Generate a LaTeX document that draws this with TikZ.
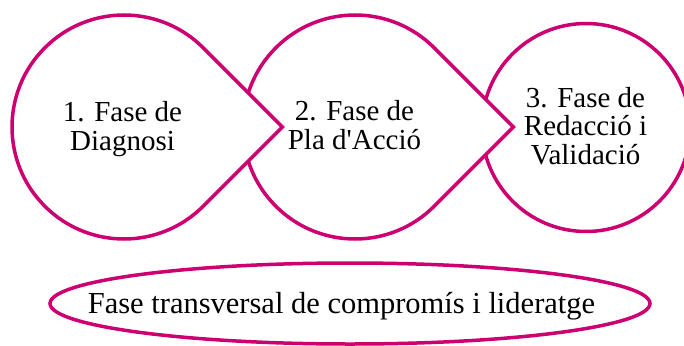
\documentclass[tikz,border=0pt]{standalone}
\usepackage{fontspec}
\setmainfont{Liberation Serif}
\usetikzlibrary{shapes.geometric}
\definecolor{mag}{RGB}{204,0,112}
\begin{document}
\begin{tikzpicture}[x=1pt,y=-1pt,
  phase/.style={draw=mag,line width=3.5pt,fill=white},
  lbl/.style={align=center,font=\fontsize{29}{28.5}\selectfont,inner sep=0pt,anchor=base}]
\useasboundingbox (0,0) rectangle (684,345);
% shape 3 (circle)
\draw[phase] (586,127.5) circle[radius=104];
% shape 2 (teardrop)
\draw[phase] (355,127) ++(45:112) arc[start angle=45,end angle=315,radius=112] -- (513.4,127) -- cycle;
% shape 1 (teardrop)
\draw[phase] (124,127) ++(45:112) arc[start angle=45,end angle=315,radius=112] -- (282.4,127) -- cycle;
\node[lbl] (p1) at (122.5,150) {1. Fase de\\Diagnosi};
\node[lbl] (p2) at (354.5,149) {2. Fase de\\Pla d\textquotesingle Acció};
\node[lbl] (p3) at (585.5,164) {3. Fase de\\Redacció i\\Validació};
\node[phase,ellipse,minimum width=600,minimum height=81,inner sep=0pt] (tr) at (350,303.5) {};
\node[inner sep=0pt,anchor=base,font=\fontsize{30.5}{30.5}\selectfont] (trt) at (341.5,313) {Fase transversal de compromís i lideratge};
\end{tikzpicture}
\end{document}
